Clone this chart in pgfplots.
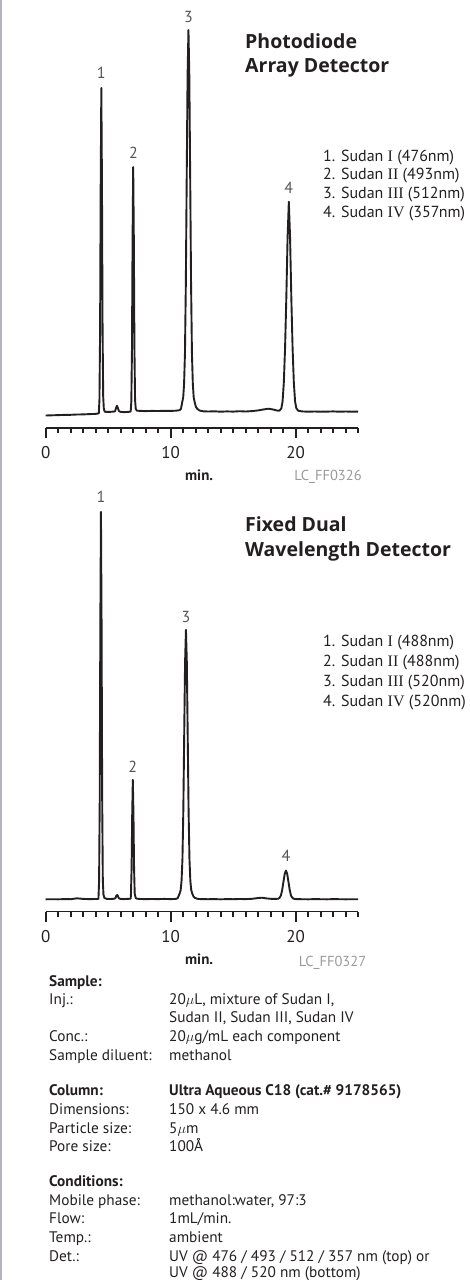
\documentclass[border=0pt]{standalone}
\usepackage{pgfplots}
\pgfplotsset{compat=1.18}
\usepackage{fontspec}
\setmainfont{PT Sans}
\newfontfamily\titlefont{Open Sans}
\newfontfamily\romfont{Liberation Serif}
\newcommand{\rn}[1]{{\romfont #1}}

\definecolor{txt}{HTML}{231F20}
\definecolor{lbl}{HTML}{555555}
\definecolor{code}{HTML}{9A9A9A}
\definecolor{frame}{HTML}{B4B4BC}

\newcommand{\bodyfs}{\fontsize{15.3}{18}\selectfont}
\newcommand{\legfs}{\fontsize{16}{19}\selectfont}
\newcommand{\titlefs}{\titlefont\fontsize{19.5}{24}\selectfont\bfseries}
\newcommand{\pkfs}{\fontsize{16}{18}\selectfont}
\newcommand{\tickfs}{\fontsize{17}{19}\selectfont}
\newcommand{\minfs}{\fontsize{15}{18}\selectfont\bfseries}
\newcommand{\codefs}{\fontsize{14.5}{17}\selectfont}

% one chromatogram: x in min, y in pt above the time axis
\pgfplotsset{chrom/.style={
    x=12.5pt, y=1pt,
    xmin=0, xmax=25, ymin=0, ymax=420,
    axis x line=bottom, axis y line=none,
    axis line style={-, line width=1.8pt, txt},
    xtick={0,10,20},
    minor xtick={1,2,3,4,5,6,7,8,9,11,12,13,14,15,16,17,18,19,21,22,23,24,25},
    tick align=outside,
    major tick length=10pt, minor tick length=5.5pt,
    every tick/.style={txt, line width=1.7pt},
    /pgf/number format/assume math mode=true,
    xticklabel style={font=\tickfs, text=txt, anchor=base, yshift=-20.5pt},
    xlabel={min.},
    xlabel style={font=\minfs, text=txt, at={(axis description cs:0.491,0)}, anchor=base, yshift=-52.8pt},
    clip=false,
    anchor=south west,
}}

\begin{document}
\begin{tikzpicture}
\useasboundingbox (0,0) rectangle (470pt,-1280pt);
\draw[frame, line width=2pt] (1pt,0) -- (1pt,-1280pt);

% ---------- Photodiode array detector ----------
\begin{axis}[chrom, at={(45.7pt,-427.7pt)}]
\addplot[txt, line width=1.9pt, line join=round] coordinates {
(0,12.2) (0.5,12.4) (1,12.6) (1.5,12.8) (2,12.9) (2.5,13.2) (3,13.3) (3.5,13.6) (4.0,13.8)
(4.25,14.4) (4.30,28) (4.35,95) (4.40,244) (4.45,339.7) (4.50,246) (4.55,98) (4.60,31) (4.65,19) (4.72,16)
(4.9,15.8) (5.2,15.9) (5.5,16.2)
(5.55,16.5) (5.62,19.5) (5.70,22) (5.78,19.5) (5.86,16.5) (6.0,15.8) (6.3,15.6) (6.6,15.8) (6.8,16.2)
(6.85,26) (6.90,77) (6.95,189) (7.00,260.7) (7.05,190) (7.10,78) (7.15,28) (7.20,19) (7.3,17)
(7.6,16.8) (8.0,16.6) (8.5,16.8) (9.0,16.7) (9.5,16.9) (10.0,16.8) (10.4,17) (10.7,17.5)
(10.82,18.8) (10.92,25.4) (11.0,30.3) (11.07,43.7) (11.14,74) (11.21,142.6) (11.28,249) (11.35,352)
(11.42,397.7) (11.49,352) (11.56,249) (11.63,142.6) (11.70,74) (11.77,43.7) (11.84,30.3) (11.92,25.4)
(12.02,20.8) (12.12,19) (12.3,17.2) (12.6,16.4)
(13,16.2) (13.5,16.4) (14,16) (14.5,16.3) (15,16.1) (15.5,16.5) (16,16.2) (16.5,16.6)
(17,17.3) (17.4,18.2) (17.8,19) (18.2,18.2) (18.5,17.2) (18.7,17)
(18.85,19.3) (18.95,26.2) (19.05,45.2) (19.15,80) (19.25,130) (19.35,190) (19.45,226)
(19.55,190) (19.65,130) (19.75,80) (19.85,45.2) (19.95,26.2) (20.05,19.5) (20.2,17)
(20.5,16.3) (21,16) (21.5,16.2) (22,16) (22.5,16.1) (23,16.3) (23.5,16) (24,16.2) (24.5,16) (25,16.1)
};
\node[font=\pkfs, text=lbl] at (axis cs:4.45,354.4) {1};
\node[font=\pkfs, text=lbl] at (axis cs:7.02,274.7) {2};
\node[font=\pkfs, text=lbl] at (axis cs:11.42,410.7) {3};
\node[font=\pkfs, text=lbl] at (axis cs:19.45,239.7) {4};
\end{axis}

\node[anchor=base west, font=\titlefs, text=txt, inner sep=0] at (245pt,-48.5pt) {Photodiode};
\node[anchor=base west, font=\titlefs, text=txt, inner sep=0] at (245pt,-72.7pt) {Array Detector};
\begin{scope}[every node/.style={anchor=base west, font=\legfs, text=txt, inner sep=0}]
\node at (323pt,-161pt) {1. Sudan \rn{I} (476nm)};
\node at (323pt,-179.8pt) {2. Sudan \rn{II} (493nm)};
\node at (323pt,-198.5pt) {3. Sudan \rn{III} (512nm)};
\node at (323pt,-217.3pt) {4. Sudan \rn{IV} (357nm)};
\end{scope}
\node[anchor=base, font=\codefs, text=code, inner sep=0] at (328pt,-480pt) {LC\_FF0326};

% ---------- Fixed dual wavelength detector ----------
\begin{axis}[chrom, at={(45.7pt,-911.5pt)}]
\addplot[txt, line width=1.9pt, line join=round] coordinates {
(0,12.2) (0.5,12.3) (1,12.2) (1.5,12.4) (2,12.3) (2.5,13.2) (3,12.6) (3.5,12.4) (4,12.5) (4.2,12.6)
(4.22,13) (4.27,29.6) (4.32,108.6) (4.37,286) (4.42,399.7) (4.47,288) (4.52,110) (4.57,31) (4.62,17) (4.7,13.5)
(4.9,12.6) (5.2,12.5) (5.5,12.8)
(5.58,13.5) (5.66,16) (5.74,16.5) (5.82,14) (5.9,12.8) (6.2,12.4) (6.5,12.6) (6.8,12.8)
(6.82,17.7) (6.87,42) (6.92,97) (6.97,131.7) (7.02,98) (7.07,43) (7.12,18) (7.2,13.5) (7.3,12.8)
(7.6,12.5) (8,12.4) (8.5,12.5) (9,12.4) (9.5,12.6) (10,12.4) (10.4,12.6) (10.55,13.2)
(10.62,15.1) (10.72,18.1) (10.80,21.6) (10.87,31.1) (10.94,52.6) (11.01,101.1) (11.08,176.6) (11.15,249.4)
(11.22,281.7) (11.29,249.4) (11.36,176.6) (11.43,101.1) (11.50,52.6) (11.57,31.1) (11.64,21.6) (11.72,18.1)
(11.82,15.1) (11.92,13.8) (12.1,12.8) (12.4,12.4)
(13,12.3) (13.5,12.4) (14,12.2) (14.5,12.4) (15,12.3) (15.5,12.5) (16,12.4) (16.5,12.7)
(17,13.5) (17.3,13.8) (17.6,13.2) (18,12.7) (18.4,12.6) (18.6,12.8)
(18.62,12.9) (18.72,13.9) (18.82,16.1) (18.92,21.6) (19.02,29.7) (19.12,37.6) (19.22,41)
(19.32,37.6) (19.42,29.7) (19.52,21.6) (19.62,16.1) (19.72,13.9) (19.82,12.9) (20,12.4)
(20.5,12.3) (21,12.2) (21.5,12.4) (22,12.3) (22.5,12.2) (23,12.4) (23.5,12.3) (24,12.2) (24.5,12.3) (25,12.3)
};
\node[font=\pkfs, text=lbl] at (axis cs:4.42,414.7) {1};
\node[font=\pkfs, text=lbl] at (axis cs:6.96,144.7) {2};
\node[font=\pkfs, text=lbl] at (axis cs:11.22,294.7) {3};
\node[font=\pkfs, text=lbl] at (axis cs:19.22,55.7) {4};
\end{axis}

\node[anchor=base west, font=\titlefs, text=txt, inner sep=0] at (245pt,-531.7pt) {Fixed Dual};
\node[anchor=base west, font=\titlefs, text=txt, inner sep=0] at (245pt,-556pt) {Wavelength Detector};
\begin{scope}[every node/.style={anchor=base west, font=\legfs, text=txt, inner sep=0}]
\node at (323pt,-646pt) {1. Sudan \rn{I} (488nm)};
\node at (323pt,-666pt) {2. Sudan \rn{II} (488nm)};
\node at (323pt,-686pt) {3. Sudan \rn{III} (520nm)};
\node at (323pt,-706pt) {4. Sudan \rn{IV} (520nm)};
\end{scope}
\node[anchor=base, font=\codefs, text=code, inner sep=0] at (332.5pt,-966.7pt) {LC\_FF0327};

% ---------- conditions ----------
\begin{scope}[every node/.style={anchor=base west, font=\bodyfs, text=txt, inner sep=0}]
\node[font=\bodyfs\bfseries] at (49pt,-986.7pt) {Sample:};
\node at (49pt,-1004pt) {Inj.:};
\node at (169pt,-1004pt) {20$\mu$L, mixture of Sudan I,};
\node at (169pt,-1022.7pt) {Sudan II, Sudan III, Sudan IV};
\node at (49pt,-1041.7pt) {Conc.:};
\node at (169pt,-1041.7pt) {20$\mu$g/mL each component};
\node at (49pt,-1060.7pt) {Sample diluent:};
\node at (169pt,-1060.7pt) {methanol};
\node[font=\bodyfs\bfseries] at (49pt,-1095.7pt) {Column:};
\node[font=\bodyfs\bfseries] at (169pt,-1095.7pt) {Ultra Aqueous C18 (cat.\# 9178565)};
\node at (49pt,-1114.3pt) {Dimensions:};
\node at (169pt,-1114.3pt) {150 x 4.6 mm};
\node at (49pt,-1133pt) {Particle size:};
\node at (169pt,-1133pt) {5$\mu$m};
\node at (49pt,-1151.7pt) {Pore size:};
\node at (169pt,-1151.7pt) {100Å};
\node[font=\bodyfs\bfseries] at (49pt,-1186.3pt) {Conditions:};
\node at (49pt,-1205pt) {Mobile phase:};
\node at (169pt,-1205pt) {methanol:water, 97:3};
\node at (49pt,-1223.7pt) {Flow:};
\node at (169pt,-1223.7pt) {1mL/min.};
\node at (49pt,-1242.4pt) {Temp.:};
\node at (169pt,-1242.4pt) {ambient};
\node at (49pt,-1261pt) {Det.:};
\node at (169pt,-1261pt) {UV @ 476 / 493 / 512 / 357 nm (top) or};
\node at (169pt,-1277.5pt) {UV @ 488 / 520 nm (bottom)};
\end{scope}
\end{tikzpicture}
\end{document}
